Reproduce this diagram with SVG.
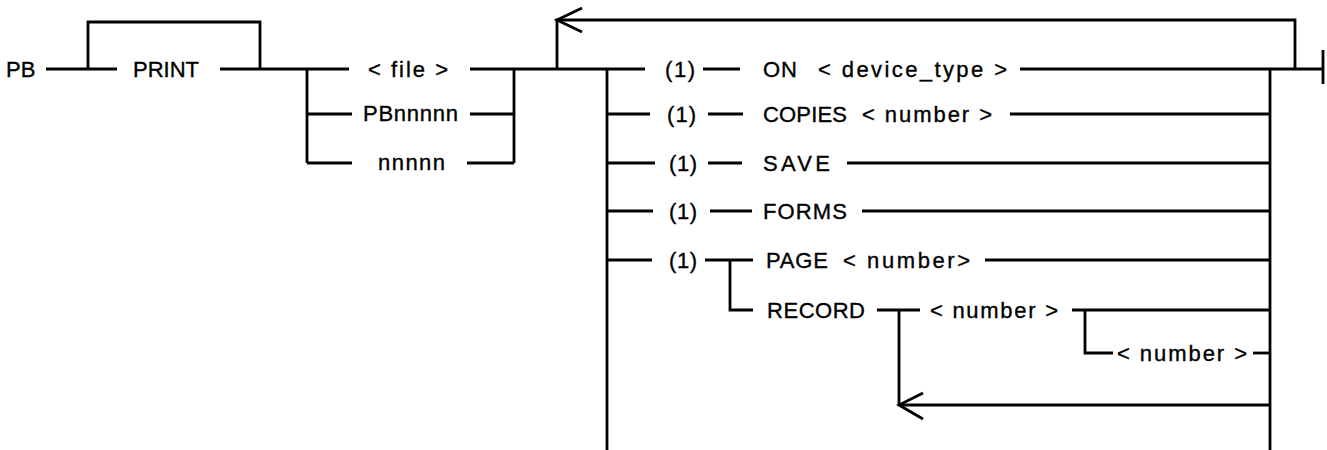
<svg xmlns="http://www.w3.org/2000/svg" width="1327" height="450" viewBox="0 0 1327 450">
<style>
text{font-family:"Liberation Sans",Arial,sans-serif;font-size:22px;fill:#000;stroke:#000;stroke-width:0.35}
.c line,.c polyline,.c path{stroke:#000;stroke-width:2.8;fill:none;stroke-linecap:butt;stroke-linejoin:miter}
</style>
<rect width="1327" height="450" fill="#fff"/>
<g class="c" id="connectors">
<line x1="46" y1="69" x2="117" y2="69"/>
<polyline points="88,69 88,22 260,22 260,69"/>
<line x1="220" y1="69" x2="307" y2="69"/>
<line x1="307" y1="69" x2="307" y2="163"/>
<line x1="307" y1="69" x2="349" y2="69"/>
<line x1="307" y1="114" x2="352" y2="114"/>
<line x1="307" y1="163" x2="352" y2="163"/>
<line x1="470" y1="69" x2="514" y2="69"/>
<line x1="470" y1="114" x2="514" y2="114"/>
<line x1="467" y1="163" x2="514" y2="163"/>
<line x1="514" y1="69" x2="514" y2="163"/>
<line x1="514" y1="69" x2="645" y2="69"/>
<polyline points="557,69 557,20 1295,20 1295,69"/>
<polyline points="582,8 557,20 582,32"/>
<line x1="607" y1="69" x2="607" y2="450"/>
<line x1="607" y1="114" x2="650" y2="114"/>
<line x1="607" y1="163" x2="655" y2="163"/>
<line x1="607" y1="211" x2="653" y2="211"/>
<line x1="607" y1="260" x2="652" y2="260"/>
<line x1="703" y1="69" x2="740" y2="69"/>
<line x1="708" y1="114" x2="743" y2="114"/>
<line x1="708" y1="163" x2="742" y2="163"/>
<line x1="710" y1="211" x2="752" y2="211"/>
<line x1="705" y1="260" x2="753" y2="260"/>
<polyline points="730,260 730,310 753,310"/>
<line x1="1020" y1="69" x2="1323" y2="69"/>
<line x1="1010" y1="114" x2="1270" y2="114"/>
<line x1="847" y1="163" x2="1270" y2="163"/>
<line x1="862" y1="211" x2="1270" y2="211"/>
<line x1="985" y1="260" x2="1270" y2="260"/>
<line x1="877" y1="310" x2="920" y2="310"/>
<line x1="899" y1="310" x2="899" y2="405"/>
<line x1="899" y1="405" x2="1270" y2="405"/>
<polyline points="923,393 899,405 923,419"/>
<line x1="1072" y1="310" x2="1270" y2="310"/>
<polyline points="1085,310 1085,353 1113,353"/>
<line x1="1253" y1="353" x2="1270" y2="353"/>
<line x1="1270" y1="69" x2="1270" y2="450"/>
<line x1="1323" y1="50" x2="1323" y2="84"/>
</g>
<g id="n-pb"><text x="6" y="77">PB</text></g>
<g id="n-print"><text x="133" y="77">PRINT</text></g>
<g id="n-file"><text x="368" y="77" textLength="80">&lt; file &gt;</text></g>
<g id="n-pbnnnnn"><text x="363" y="121" textLength="95">PBnnnnn</text></g>
<g id="n-nnnnn"><text x="378" y="170" textLength="67">nnnnn</text></g>
<g id="n-1a"><text x="665" y="77" textLength="30">(1)</text></g>
<g id="n-1b"><text x="667" y="122" textLength="29">(1)</text></g>
<g id="n-1c"><text x="669" y="171" textLength="28">(1)</text></g>
<g id="n-1d"><text x="669" y="219" textLength="28">(1)</text></g>
<g id="n-1e"><text x="669" y="268" textLength="28">(1)</text></g>
<g id="n-on"><text x="763" y="77" textLength="34">ON</text></g>
<g id="n-devtype"><text x="818" y="77" textLength="189">&lt; device_type &gt;</text></g>
<g id="n-copies"><text x="763" y="122" textLength="84">COPIES</text></g>
<g id="n-copies-num"><text x="862" y="122" textLength="130">&lt; number &gt;</text></g>
<g id="n-save"><text x="763" y="171" textLength="67">SAVE</text></g>
<g id="n-forms"><text x="763" y="219" textLength="84">FORMS</text></g>
<g id="n-page"><text x="766" y="268" textLength="62">PAGE</text></g>
<g id="n-page-num"><text x="843" y="268" textLength="127">&lt; number&gt;</text></g>
<g id="n-record"><text x="767" y="318" textLength="98">RECORD</text></g>
<g id="n-rec-num1"><text x="930" y="318" textLength="128">&lt; number &gt;</text></g>
<g id="n-rec-num2"><text x="1117" y="361" textLength="130">&lt; number &gt;</text></g>
</svg>
